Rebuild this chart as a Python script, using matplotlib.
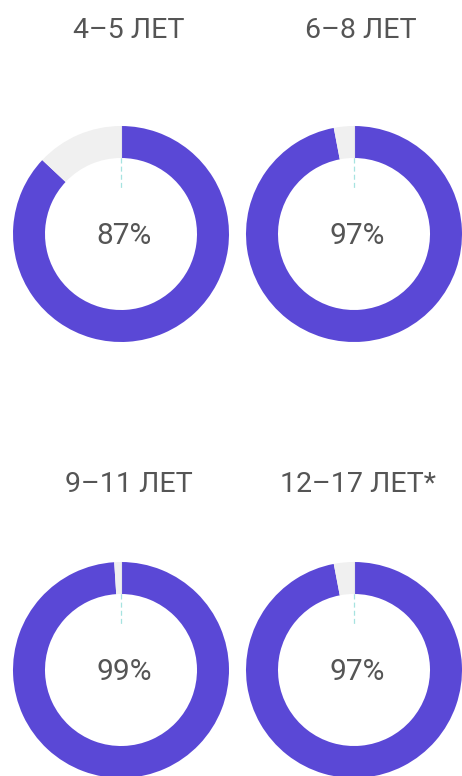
import matplotlib.pyplot as plt

plt.rcParams['font.family'] = ['Roboto', 'DejaVu Sans']

groups = ["4–5 ЛЕТ", "6–8 ЛЕТ", "9–11 ЛЕТ", "12–17 ЛЕТ*"]
shares = [87, 97, 99, 97]

W, H = 462, 776
purple = "#5a48d6"
rest = "#f0f0f0"
text_c = "#555555"

# donut centres in pixel coords (y from top)
centres = [(121, 234), (354, 234), (121, 670), (354, 670)]
title_xy = [(129, 29), (361, 29), (129, 483), (358, 483)]
R, ring = 108, 32

fig = plt.figure(figsize=(W / 100, H / 100), dpi=100)
ax = fig.add_axes([0, 0, 1, 1])

for name, val, (cx, cy), (tx, ty) in zip(groups, shares, centres, title_xy):
    ax.pie([val, 100 - val], colors=[purple, rest], startangle=90,
           counterclock=False, center=(cx, H - cy), radius=R,
           wedgeprops=dict(width=ring, linewidth=0))
    # thin marker at 12 o'clock: light inside the ring, dashed below it
    ax.plot([cx, cx], [H - cy + R, H - cy + R - ring], color="#e4e4ea",
            lw=0.8, zorder=3)
    ax.plot([cx, cx], [H - cy + R - ring, H - cy + R - 64], color="#a6e3e0",
            lw=0.9, ls=(0, (4, 2.5)), zorder=3)
    ax.text(cx + 3, H - cy - 2, f"{val}%", ha="center", va="center",
            fontsize=21.5, color=text_c)
    ax.text(tx, H - ty - 1, name, ha="center", va="center",
            fontsize=20.5, color=text_c)

ax.set_xlim(0, W)
ax.set_ylim(0, H)
ax.set_aspect("equal")
ax.axis("off")

fig.savefig("out.png", dpi=100, facecolor="white")
